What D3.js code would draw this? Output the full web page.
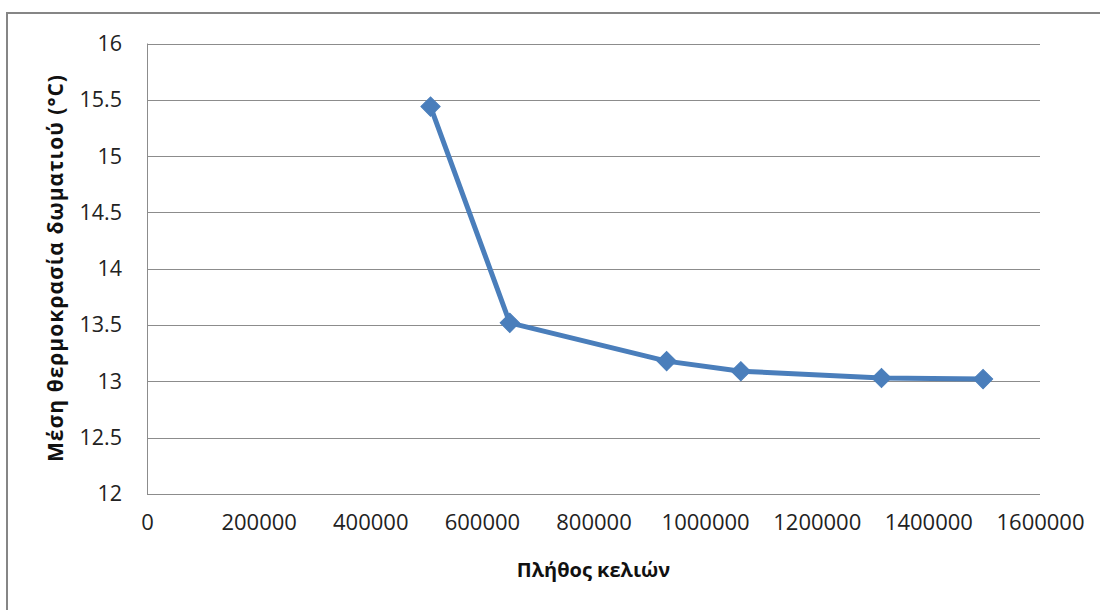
<!DOCTYPE html>
<html>
<head>
<meta charset="utf-8">
<script src="https://cdn.jsdelivr.net/npm/d3@7"></script>
<style>
  html, body { margin: 0; padding: 0; background: #fff; }
  svg { display: block; }
</style>
</head>
<body>
<svg id="chart" width="1100" height="610"></svg>
<script>
const cellCounts = [508000, 650000, 931000, 1064000, 1316000, 1498000];
const meanTemps = [15.44, 13.52, 13.18, 13.09, 13.03, 13.02];
const xTicks = [0, 200000, 400000, 600000, 800000, 1000000, 1200000, 1400000, 1600000];
const yTicks = [12, 12.5, 13, 13.5, 14, 14.5, 15, 15.5, 16];
const xTitle = "Πλήθος κελιών";
const yTitle = "Μέση θερμοκρασία δωματιού  (°C)";

const svg = d3.select("#chart");
const m = { left: 147, right: 1040, top: 43.5, bottom: 494 };
const font = "'Open Sans', 'Noto Sans', sans-serif";

// outer chart frame
svg.append("rect")
  .attr("x", 7).attr("y", 13)
  .attr("width", 1200).attr("height", 700)
  .attr("fill", "none").attr("stroke", "#868686").attr("stroke-width", 2);

const x = d3.scaleLinear().domain([0, 1600000]).range([m.left, m.right]);
const y = d3.scaleLinear().domain([12, 16]).range([m.bottom, m.top]);

// gridlines
svg.append("g")
  .selectAll("line").data(yTicks).join("line")
  .attr("x1", m.left).attr("x2", m.right)
  .attr("y1", d => Math.round(y(d)) + 0.5).attr("y2", d => Math.round(y(d)) + 0.5)
  .attr("stroke", "#8c8c8c").attr("stroke-width", 1);

// left axis line
svg.append("line")
  .attr("x1", m.left + 0.5).attr("x2", m.left + 0.5)
  .attr("y1", m.top).attr("y2", m.bottom)
  .attr("stroke", "#8c8c8c").attr("stroke-width", 1);

// y axis labels
const yAxis = d3.axisLeft(y).tickValues(yTicks).tickSize(0).tickPadding(25)
  .tickFormat(d => String(d));
const gy = svg.append("g").attr("transform", `translate(${m.left},0)`).call(yAxis);
gy.select(".domain").remove();
gy.selectAll("text").attr("font-family", font).attr("font-size", 21.5).attr("fill", "#222");

// x axis labels
const xAxis = d3.axisBottom(x).tickValues(xTicks).tickSize(0).tickPadding(20)
  .tickFormat(d => String(d));
const gx = svg.append("g").attr("transform", `translate(0,${m.bottom})`).call(xAxis);
gx.select(".domain").remove();
gx.selectAll("text").attr("font-family", font).attr("font-size", 22).attr("fill", "#222");

// axis titles
svg.append("text")
  .attr("x", (m.left + m.right) / 2).attr("y", 577)
  .attr("text-anchor", "middle")
  .attr("font-family", font).attr("font-size", 20).attr("font-weight", "bold")
  .attr("fill", "#111")
  .text(xTitle);

svg.append("text")
  .attr("transform", `translate(63,268.5) rotate(-90)`)
  .attr("text-anchor", "middle")
  .attr("font-family", font).attr("font-size", 21).attr("font-weight", "bold")
  .attr("fill", "#111")
  .attr("textLength", 387).attr("lengthAdjust", "spacing")
  .text(yTitle);

// series
const pts = cellCounts.map((c, i) => [c, meanTemps[i]]);
const color = "#4a7ebb";
svg.append("path")
  .datum(pts)
  .attr("fill", "none").attr("stroke", color).attr("stroke-width", 5)
  .attr("stroke-linejoin", "round")
  .attr("d", d3.line().x(d => x(d[0])).y(d => y(d[1])));

svg.append("g").selectAll("path").data(pts).join("path")
  .attr("transform", d => `translate(${x(d[0])},${y(d[1])}) rotate(45)`)
  .attr("d", "M-6.8,-6.8L6.8,-6.8L6.8,6.8L-6.8,6.8Z")
  .attr("fill", color).attr("stroke", color).attr("stroke-width", 1);
</script>
</body>
</html>
